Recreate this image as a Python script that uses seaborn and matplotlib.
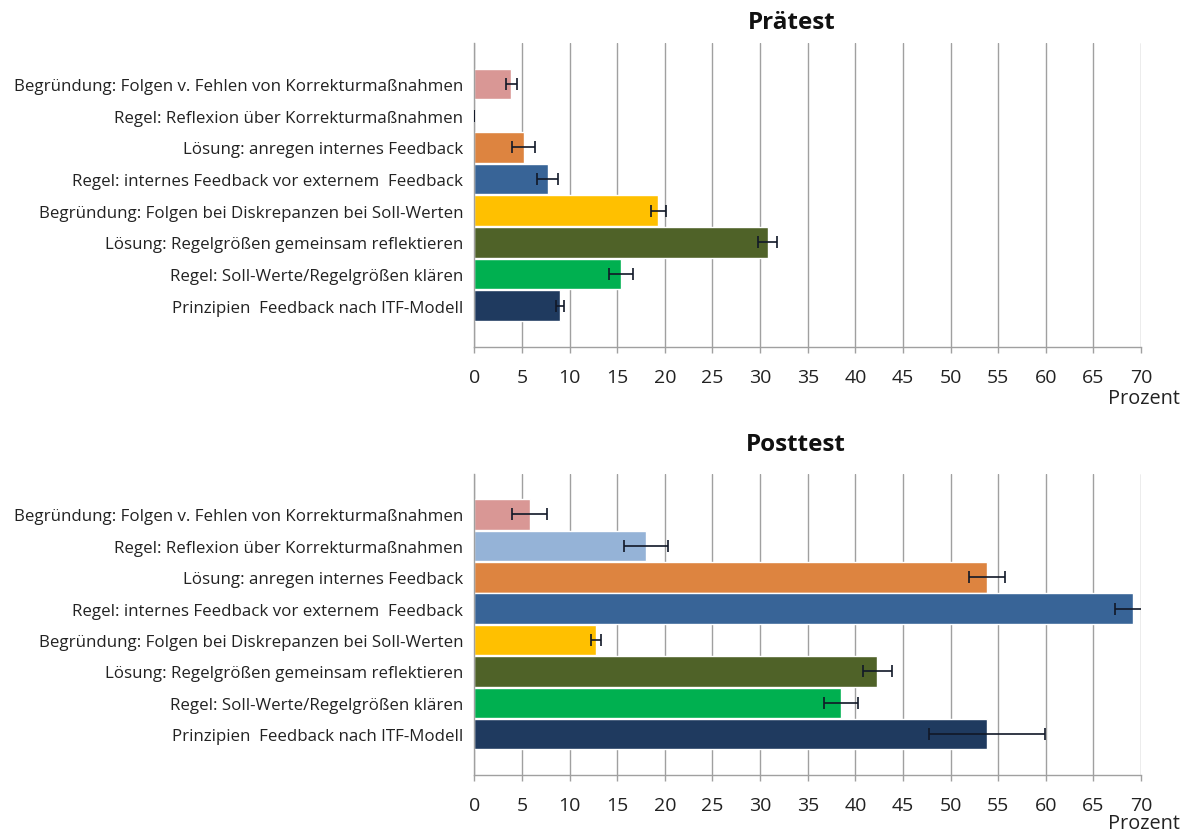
import matplotlib
matplotlib.use("Agg")
import matplotlib.pyplot as plt
import seaborn as sns
import pandas as pd

# Item categories (top to bottom)
categories = [
    "Begründung: Folgen v. Fehlen von Korrekturmaßnahmen",
    "Regel: Reflexion über Korrekturmaßnahmen",
    "Lösung: anregen internes Feedback",
    "Regel: internes Feedback vor externem  Feedback",
    "Begründung: Folgen bei Diskrepanzen bei Soll-Werten",
    "Lösung: Regelgrößen gemeinsam reflektieren",
    "Regel: Soll-Werte/Regelgrößen klären",
    "Prinzipien  Feedback nach ITF-Modell",
]

# Percent values and standard errors
pre_values = [3.9, 0.0, 5.2, 7.7, 19.3, 30.8, 15.4, 9.0]
pre_errors = [0.6, 0.0, 1.2, 1.1, 0.8, 1.0, 1.3, 0.4]
post_values = [5.8, 18.0, 53.8, 69.2, 12.8, 42.3, 38.5, 53.8]
post_errors = [1.8, 2.3, 1.9, 1.9, 0.5, 1.5, 1.8, 6.1]

titles = ["Prätest", "Posttest"]
x_ticks = list(range(0, 75, 5))
x_unit = "Prozent"

colors = ["#D99795", "#95B3D7", "#DD8440", "#386497",
          "#FFC000", "#4F6228", "#00B050", "#1F3A5F"]

sns.set_theme(style="white")
plt.rcParams["font.family"] = ["Open Sans", "DejaVu Sans"]

grid_col = "#A0A0A0"

fig = plt.figure(figsize=(11.89, 8.37), dpi=100)
ax_pre = fig.add_axes([0.3989, 0.5846, 0.5608, 0.3628])
ax_post = fig.add_axes([0.3989, 0.0732, 0.5608, 0.3593])

panels = [
    (ax_pre, pre_values, pre_errors, titles[0], 792, 23, 399),
    (ax_post, post_values, post_errors, titles[1], 796, 445, 824),
]

for ax, vals, errs, title, tx, ty, py in panels:
    df = pd.DataFrame({"Kategorie": categories, "Wert": vals})
    sns.barplot(data=df, x="Wert", y="Kategorie", hue="Kategorie",
                palette=colors, legend=False, orient="h", width=0.97,
                saturation=1, ax=ax, zorder=2)
    ax.errorbar(vals, range(len(categories)), xerr=errs, fmt="none",
                ecolor="#111827", elinewidth=1.2, capsize=4.5,
                capthick=1.2, zorder=3)
    ax.set_xlim(0, 70)
    ax.set_ylim(len(categories) - 1 + 0.79 + 0.5, -0.5 - 0.79)
    ax.set_xticks(x_ticks)
    ax.set_xticklabels([str(t) for t in x_ticks], fontsize=14, color="#222222")
    ax.tick_params(axis="x", direction="out", length=4, width=1,
                   color=grid_col, pad=11, bottom=True)
    ax.tick_params(axis="y", length=0, pad=8, labelsize=12.2,
                   labelcolor="#222222")
    ax.set_xlabel("")
    ax.set_ylabel("")
    ax.xaxis.grid(True, color=grid_col, linewidth=1, zorder=0)
    ax.yaxis.grid(False)
    ax.set_axisbelow(True)
    for side in ["top", "right"]:
        ax.spines[side].set_visible(False)
    for side in ["left", "bottom"]:
        ax.spines[side].set_color(grid_col)
        ax.spines[side].set_linewidth(1)
    fig.text(tx / 1189, 1 - ty / 837, title, ha="center", va="center",
             fontsize=17.5, fontweight="bold", color="#111111")
    fig.text(1180 / 1189, 1 - py / 837, x_unit, ha="right", va="center",
             fontsize=14.3, color="#222222")

fig.savefig("out.png", dpi=100, facecolor="white")
